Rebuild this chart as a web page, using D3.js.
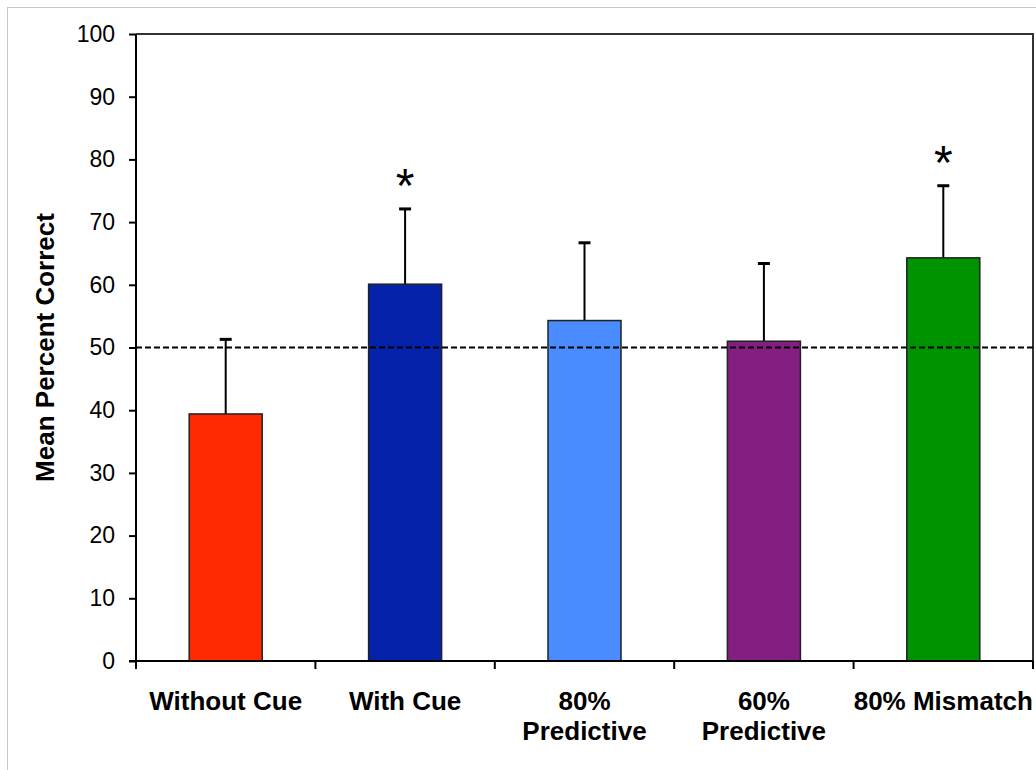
<!DOCTYPE html>
<html>
<head>
    <meta charset="utf-8">
    <title>Mean Percent Correct</title>
    <script src="https://d3js.org/d3.v7.min.js"></script>
    <style>
        html, body { margin: 0; background: #fff; }
        svg { display: block; }
        text { font-family: "Liberation Sans", Arial, sans-serif; fill: #000; }
        .xlabel { font-size: 26px; font-weight: bold; }
    </style>
</head>
<body>
    <svg></svg>
    <script>
        const categories = [["Without Cue"], ["With Cue"], ["80%", "Predictive"], ["60%", "Predictive"], ["80% Mismatch"]];
        const means = [39.4, 60.1, 54.3, 51.0, 64.3];
        const errors = [11.9, 12.0, 12.4, 12.4, 11.5];
        const significant = [false, true, false, false, true];
        const colors = ["#ff2a00", "#0522aa", "#4a8bff", "#821f80", "#009300"];
        const yTicks = [0, 10, 20, 30, 40, 50, 60, 70, 80, 90, 100];
        const chance = 50;

        const width = 1036, height = 770;
        const plotLeft = 136, plotRight = 1033, plotTop = 34, plotBottom = 661;

        const svg = d3.select("svg")
            .attr("width", width)
            .attr("height", height);

        // outer light frame
        svg.append("rect")
            .attr("x", 7.5).attr("y", 7.5)
            .attr("width", width).attr("height", height)
            .attr("fill", "none").attr("stroke", "#c8c8c8");

        var x = d3.scaleBand()
            .domain(d3.range(categories.length))
            .range([plotLeft, plotRight])
            .paddingInner(0.593)
            .paddingOuter(0.2965);

        var y = d3.scaleLinear().domain([0, 100]).range([plotBottom, plotTop]);

        // plot frame top + right
        svg.append("path")
            .attr("d", `M${plotLeft},${plotTop}H${plotRight}V${plotBottom}`)
            .attr("fill", "none")
            .attr("stroke", "#333")
            .attr("stroke-width", 2);

        // error bars (upper only)
        var err = svg.append("g").selectAll("g")
            .data(means)
            .join("g")
            .attr("stroke", "#000")
            .attr("stroke-width", 2);
        err.append("line")
            .attr("x1", (d, i) => x(i) + x.bandwidth() / 2)
            .attr("x2", (d, i) => x(i) + x.bandwidth() / 2)
            .attr("y1", d => y(d))
            .attr("y2", (d, i) => y(d + errors[i]));
        err.append("line")
            .attr("x1", (d, i) => x(i) + x.bandwidth() / 2 - 6)
            .attr("x2", (d, i) => x(i) + x.bandwidth() / 2 + 6)
            .attr("y1", (d, i) => y(d + errors[i]))
            .attr("y2", (d, i) => y(d + errors[i]))
            .attr("stroke-width", 3);

        // bars
        svg.append("g").selectAll("rect")
            .data(means)
            .join("rect")
            .attr("x", (d, i) => x(i))
            .attr("y", d => y(d))
            .attr("width", x.bandwidth())
            .attr("height", d => y(0) - y(d))
            .attr("fill", (d, i) => colors[i])
            .attr("stroke", "#222")
            .attr("stroke-width", 1.5);

        // chance line
        svg.append("line")
            .attr("x1", plotLeft).attr("x2", plotRight)
            .attr("y1", y(chance)).attr("y2", y(chance))
            .attr("stroke", "#000")
            .attr("stroke-width", 2)
            .attr("stroke-dasharray", "6,3");

        // asterisks
        svg.append("g").selectAll("text")
            .data(means.map((d, i) => ({ i, hi: d + errors[i] })).filter(d => significant[d.i]))
            .join("text")
            .attr("x", d => x(d.i) + x.bandwidth() / 2)
            .attr("y", d => y(d.hi) - 7)
            .attr("text-anchor", "middle")
            .attr("font-size", 48)
            .text("*");

        // y axis
        var yAxis = svg.append("g")
            .attr("transform", `translate(${plotLeft},0)`)
            .call(d3.axisLeft(y).tickValues(yTicks).tickSize(7).tickPadding(14));
        yAxis.selectAll("path, line").attr("stroke", "#000").attr("stroke-width", 2);
        yAxis.select(".domain").attr("d", `M0,${plotTop}V${plotBottom}`);
        yAxis.selectAll("text")
            .attr("font-size", 23)
            .attr("font-family", "Liberation Sans, Arial, sans-serif");

        // x axis line + ticks at band boundaries
        var xa = svg.append("g").attr("stroke", "#000").attr("stroke-width", 2);
        xa.append("line").attr("x1", plotLeft - 7).attr("x2", plotRight).attr("y1", plotBottom).attr("y2", plotBottom);
        xa.selectAll("line.t")
            .data(d3.range(categories.length + 1))
            .join("line")
            .attr("class", "t")
            .attr("x1", i => plotLeft + i * x.step())
            .attr("x2", i => plotLeft + i * x.step())
            .attr("y1", plotBottom)
            .attr("y2", plotBottom + 8);

        // x labels
        svg.append("g").selectAll("text")
            .data(categories)
            .join("text")
            .attr("class", "xlabel")
            .attr("text-anchor", "middle")
            .attr("x", (d, i) => x(i) + x.bandwidth() / 2)
            .attr("y", 710)
            .selectAll("tspan")
            .data(d => d)
            .join("tspan")
            .attr("x", function () { return this.parentNode.getAttribute("x"); })
            .attr("dy", (d, j) => j === 0 ? 0 : 30)
            .text(d => d);

        // y title
        svg.append("text")
            .attr("transform", `translate(54,${(plotTop + plotBottom) / 2}) rotate(-90)`)
            .attr("text-anchor", "middle")
            .attr("font-size", 26)
            .attr("font-weight", "bold")
            .text("Mean Percent Correct");
    </script>
</body>
</html>
